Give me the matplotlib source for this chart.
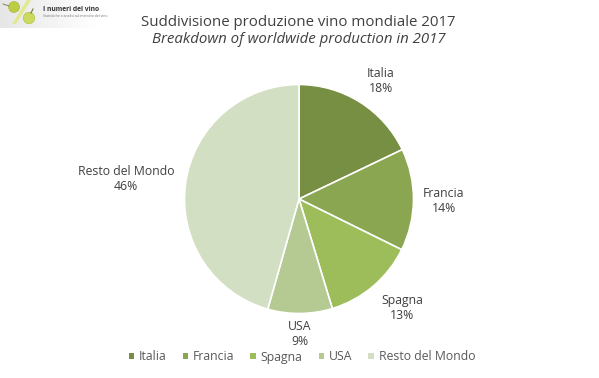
import numpy as np
import matplotlib
matplotlib.use("Agg")
import matplotlib.pyplot as plt
from matplotlib.patches import Circle, Polygon

W, H = 599, 378
categories = ["Italia", "Francia", "Spagna", "USA", "Resto del Mondo"]
values = [17.9, 14.4, 13.0, 9.1, 45.6]
colors = ["#778F42", "#8BA651", "#9DBD5A", "#B5C993", "#D3DFC2"]
title_it = "Suddivisione produzione vino mondiale 2017"
title_en = "Breakdown of worldwide production in 2017"
label_px = [(381, 81), (444, 201), (402, 308), (300, 334), (126, 179)]
FONT = "Open Sans"
TXT = "#404040"

plt.rcParams["font.family"] = [FONT, "DejaVu Sans"]
fig = plt.figure(figsize=(W / 100, H / 100), dpi=100, facecolor="white")

bg = fig.add_axes([0, 0, 1, 1])
bg.axis("off")

# logo
grad = np.linspace(0.90, 1, 100).reshape(1, -1)
bg.imshow(np.tile(grad, (28, 1)), extent=(0, 100, 28, 0), cmap="gray", vmin=0, vmax=1,
          aspect="auto", zorder=0)
bg.set_xlim(0, W)
bg.set_ylim(H, 0)
bg.add_patch(Polygon([(27, 0), (31, 0), (16, 24), (12, 24)], fc="#E2E88F", ec="none", zorder=1))
bg.add_patch(Circle((14, 7), 5.5, fc="#BCCC45", ec="#A5B638", lw=0.4, zorder=2))
bg.add_patch(Circle((29, 18), 5.8, fc="#CBD95E", ec="#AFC040", lw=0.4, zorder=2))
bg.plot([3, 9], [4, 6], color="#7A8A50", lw=0.7, zorder=2)
bg.plot([31, 33], [13, 9], color="#6B7B40", lw=0.8, zorder=2)
bg.text(43, 9.5, "I numeri del vino", fontsize=4.9, color="#333333", ha="left", va="center",
        fontweight="bold", zorder=3)
bg.text(43, 16, "Statistiche e analisi sul mercato del vino", fontsize=2.5, color="#777777",
        ha="left", va="center", zorder=3)

# titles
bg.text(298, 22, title_it, fontsize=10.8, color=TXT, ha="center", va="center")
bg.text(299, 39.5, title_en, fontsize=10.8, color=TXT, ha="center", va="center", style="italic")

# pie
cx, cy, r = 299, 199, 114.5
ax = fig.add_axes([(cx - r) / W, 1 - (cy + r) / H, 2 * r / W, 2 * r / H])
wedges, _ = ax.pie(values, colors=colors, startangle=90, counterclock=False, radius=1,
                   wedgeprops=dict(edgecolor="white", linewidth=1.2))
ax.set_xlim(-1, 1)
ax.set_ylim(-1, 1)
for patch in wedges:
    patch.set_clip_on(False)

# labels
for name, val, (x, y) in zip(categories, values, label_px):
    bg.text(x, y, f"{name}\n{val:.0f}%", fontsize=8.8, color=TXT, ha="center", va="center",
            linespacing=1.15)

# legend
leg = fig.legend(wedges, categories, loc="center", bbox_to_anchor=(302 / W, 1 - 357 / H), ncol=5,
                 frameon=False, fontsize=8.8, labelcolor="#595959", handlelength=0.45,
                 handleheight=0.45, handletextpad=0.4, columnspacing=1.3, borderpad=0)
for h in leg.legend_handles:
    h.set_edgecolor("none")

fig.savefig("out.png", dpi=100, facecolor="white")
